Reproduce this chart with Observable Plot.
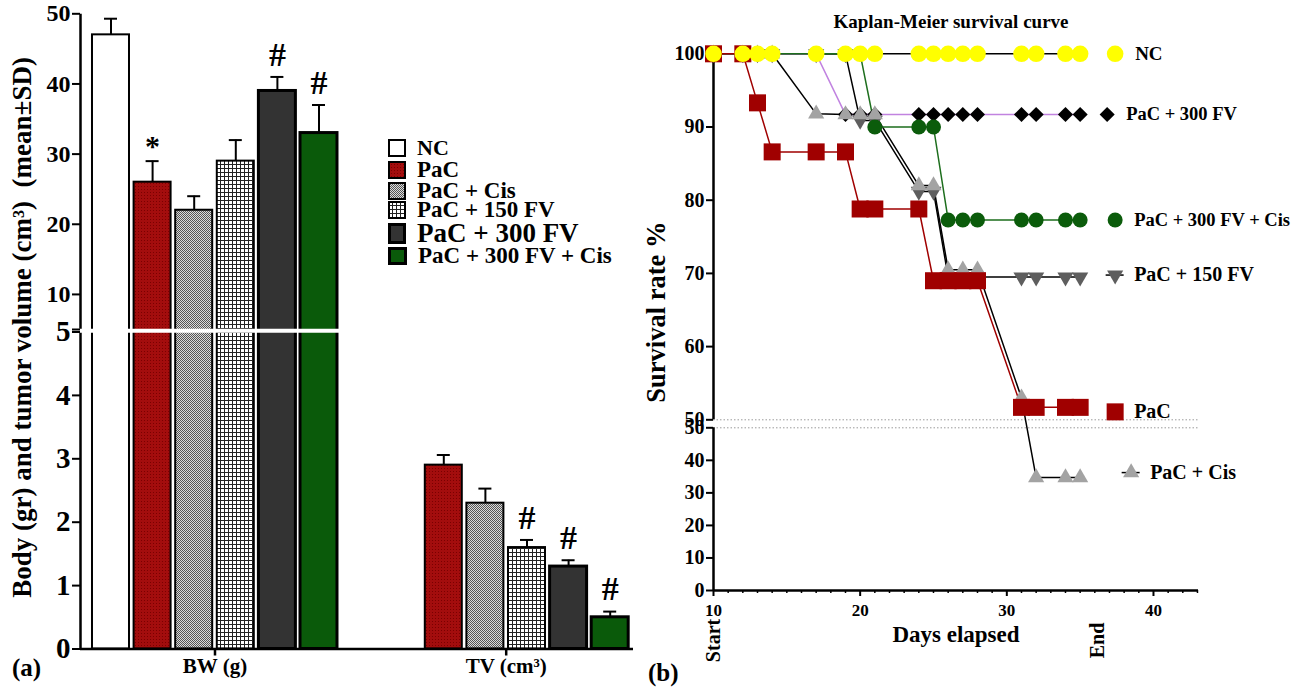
<!DOCTYPE html>
<html><head><meta charset="utf-8">
<script src="https://cdn.jsdelivr.net/npm/d3@7"></script>
<script src="https://cdn.jsdelivr.net/npm/@observablehq/plot@0.6"></script>
<style>
html,body{margin:0;padding:0;background:#fff;}
#root{position:relative;width:1307px;height:687px;overflow:hidden;font-family:"Liberation Serif","Times New Roman",serif;font-weight:bold;color:#000;}
#root > svg{position:absolute;top:0;}
.lbl{position:absolute;white-space:nowrap;line-height:1;}
.leg{position:absolute;left:388px;display:flex;align-items:center;white-space:nowrap;line-height:0.85;}
.leg svg{margin-right:11px;flex:none;}
</style></head>
<body>
<svg width="0" height="0" style="position:absolute">
<defs>
<pattern id="pPaC" width="3" height="3" patternUnits="userSpaceOnUse">
<rect width="3" height="3" fill="#a30d0d"/><rect width="1" height="1" fill="#7a0000"/>
</pattern>
<pattern id="pCis" width="2" height="2" patternUnits="userSpaceOnUse">
<rect width="2" height="2" fill="#dadada"/><rect width="1" height="1" fill="#555"/><rect x="1" y="1" width="1" height="1" fill="#555"/>
</pattern>
<pattern id="p150" width="4" height="4" patternUnits="userSpaceOnUse">
<rect width="4" height="4" fill="#fff"/><path d="M0 0.5H4M0.5 0V4" stroke="#222" stroke-width="1"/>
</pattern>
</defs></svg>
<div id="root"></div>
<script>
// ---------- Panel (a) data ----------
const groups = ["BW (g)", "TV (cm³)"];
const series = ["NC", "PaC", "PaC + Cis", "PaC + 150 FV", "PaC + 300 FV", "PaC + 300 FV + Cis"];
const bwMean = [47, 26, 22, 29, 39, 33];
const bwSD = [2.3, 3, 2, 3, 2, 4];
const bwSig = ["", "*", "", "", "#", "#"];
const tvMean = [null, 2.9, 2.3, 1.6, 1.3, 0.5];
const tvSD = [null, 0.16, 0.23, 0.12, 0.1, 0.09];
const tvSig = ["", "", "", "#", "#", "#"];
const yTicksLowA = [0, 1, 2, 3, 4, 5];
const yTicksHighA = [10, 20, 30, 40, 50];
const yLabelA = "Body (gr) and tumor volume (cm³)  (mean±SD)";

// ---------- Panel (b) data ----------
const days = [10, 12, 13, 14, 17, 19, 20, 21, 24, 25, 26, 27, 28, 31, 32, 34, 35];
const survNC = [100, 100, 100, 100, 100, 100, 100, 100, 100, 100, 100, 100, 100, 100, 100, 100, 100];
const survPaC = [100, 100, 93.3, 86.6, 86.6, 86.6, 78.8, 78.8, 78.8, 69, 69, 69, 69, 51.7, 51.7, 51.7, 51.7];
const survCis = [100, 100, 100, 100, 91.8, 91.7, 91.7, 91.7, 82, 82, 70.5, 70.5, 70.5, 53, 34.7, 34.7, 34.7];
const surv150 = [100, 100, 100, 100, 100, 100, 90.9, 90.9, 81.2, 81.2, 69.5, 69.5, 69.5, 69.5, 69.5, 69.5, 69.5];
const surv300 = [100, 100, 100, 100, 100, 91.7, 91.7, 91.7, 91.7, 91.7, 91.7, 91.7, 91.7, 91.7, 91.7, 91.7, 91.7];
const surv300Cis = [100, 100, 100, 100, 100, 100, 100, 90, 90, 90, 77.3, 77.3, 77.3, 77.3, 77.3, 77.3, 77.3];
const dayTicks = [10, 20, 30, 40];
const yTicksB = [0, 10, 20, 30, 40, 50, 60, 70, 80, 90, 100];
const eventLabels = ["Start", "End"];
const eventDays = [10, 36.2];

const FONT = "Liberation Serif, Times New Roman, serif";
const root = document.getElementById("root");

// ---------- Panel (a) ----------
const fillsA = ["#ffffff", "url(#pPaC)", "url(#pCis)", "url(#p150)", "#333333", "#0a5a0a"];
const slots = [];
groups.forEach((g, gi) => { if (gi) slots.push("gap"); series.forEach(s => slots.push(g + "|" + s)); });
const barRows = [];
series.forEach((s, i) => {
  barRows.push({series: s, slot: groups[0] + "|" + s, mean: bwMean[i], sd: bwSD[i], sig: bwSig[i]});
  if (tvMean[i] != null) barRows.push({series: s, slot: groups[1] + "|" + s, mean: tvMean[i], sd: tvSD[i], sig: tvSig[i]});
});
const groupCenters = groups.map(g => ({label: g, slot: g + "|" + series[2]}));

const W1 = 640, H1 = 687, mL = 80, mR = 7, mT = 13.3, mB = 38.5;
const yBreakA = 5.0001;
const fw = W1 - mL - mR, fh = H1 - mT - mB;
const left = Plot.plot({
  width: W1, height: H1, marginLeft: mL, marginRight: mR, marginTop: mT, marginBottom: mB,
  style: {fontFamily: FONT, fontWeight: "bold", background: "transparent", overflow: "visible"},
  x: {type: "band", domain: slots, range: [mL, W1 - mR], round: false, paddingInner: 0.1106, paddingOuter: 0.2019, align: 0.714, axis: null},
  y: {type: "linear", domain: [0, 5, yBreakA, 50], range: [H1 - mB, 331.5, 329, mT]},
  color: {type: "ordinal", domain: series, range: fillsA},
  marks: [
    Plot.frame({strokeWidth: 2.5, strokeDasharray: `0 ${2 * fw + fh} ${fh}`}),
    Plot.barY(barRows, {x: "slot", y: "mean", fill: "series", stroke: "#000", strokeWidth: d => d.series.startsWith("PaC + 300") ? 3 : 2}),
    Plot.ruleX(barRows, {x: "slot", y1: "mean", y2: d => d.mean + d.sd, strokeWidth: 2}),
    Plot.tickY(barRows, {x: "slot", y: d => d.mean + d.sd, strokeWidth: 2, insetLeft: 12, insetRight: 12}),
    Plot.text(barRows.filter(d => d.sig === "#"), {x: "slot", y: d => d.mean + d.sd, text: "sig", dy: -22, fontSize: 34}),
    Plot.text(barRows.filter(d => d.sig === "*"), {x: "slot", y: d => d.mean + d.sd, text: "sig", dy: -15, fontSize: 30}),
    Plot.ruleY([5.00005], {x1: () => slots[0], x2: () => slots[5], insetLeft: -16, insetRight: -2, stroke: "#fff", strokeWidth: 4}),
    Plot.axisY({ticks: [...yTicksLowA, yBreakA], tickSize: 8, tickPadding: 2, fontSize: 29, strokeWidth: 2, tickFormat: d => d === yBreakA ? "" : String(d), label: null}),
    Plot.axisY({ticks: yTicksHighA, tickSize: 8, tickPadding: 2, fontSize: 24, strokeWidth: 2, label: null}),
    Plot.ruleY([0], {strokeWidth: 2.5}),
    Plot.ruleX(groupCenters, {x: "slot", y1: 0, y2: 0, dx: 20.8, insetBottom: -7, strokeWidth: 2.5}),
    Plot.text(groupCenters, {x: "slot", y: 0, text: "label", dx: 20.8, dy: 17, fontSize: 21}),
    Plot.text([yLabelA], {frameAnchor: "left", textAnchor: "middle", text: d => d, rotate: -90, dx: -58, dy: -4, fontSize: 27})
  ]
});
left.style.left = "0px";
root.appendChild(left);

// ---------- Panel (b) ----------
const downTriangle = {draw(context, size) {
  const y = Math.sqrt(size / (Math.sqrt(3) * 3));
  context.moveTo(0, 2 * y); context.lineTo(-Math.sqrt(3) * y, -y); context.lineTo(Math.sqrt(3) * y, -y); context.closePath();
}};
const survSeries = [
  {name: "NC", values: survNC, line: "#000", symbol: "circle", fill: "#ffff00", r: 8.3, ldx: 35, tdx: 55, ldy: 0, fs: 19},
  {name: "PaC + 300 FV", values: surv300, line: "#c183e0", symbol: "diamond2", fill: "#000", r: 6.8, ldx: 27, tdx: 46, ldy: 0, fs: 18.5},
  {name: "PaC + 300 FV + Cis", values: surv300Cis, line: "#1d6e1d", symbol: "circle", fill: "#0b5c0b", r: 7.5, ldx: 35, tdx: 54, ldy: 0, fs: 18.5},
  {name: "PaC + 150 FV", values: surv150, line: "#000", symbol: downTriangle, fill: "#5e5e5e", r: 6, ldx: 35, tdx: 54, ldy: -2, fs: 20, dash: true},
  {name: "PaC", values: survPaC, line: "#a00000", symbol: "square", fill: "#a00000", r: 9.6, ldx: 35, tdx: 54, ldy: 4.5, fs: 20},
  {name: "PaC + Cis", values: survCis, line: "#000", symbol: "triangle", fill: "#a3a3a3", r: 6, ldx: 51, tdx: 70, ldy: -5, fs: 20, dash: true}
];
survSeries.forEach(s => { s.rows = days.map((d, i) => ({series: s.name, day: d, value: s.values[i]})); s.last = s.rows[s.rows.length - 1]; });
const byName = Object.fromEntries(survSeries.map(s => [s.name, s]));
const lineOrder = ["NC", "PaC + Cis", "PaC + 150 FV", "PaC + 300 FV", "PaC + 300 FV + Cis", "PaC"];
const dotOrder = ["PaC + 300 FV", "PaC + 150 FV", "PaC + 300 FV + Cis", "PaC + Cis", "PaC", "NC"];
const yBreakB = 50.001;
const minorTicks = d3.range(11, 44).filter(d => d % 10 !== 0);

const W2 = 667, H2 = 687;
const right = Plot.plot({
  width: W2, height: H2, marginLeft: 73, marginRight: 109, marginTop: 53.3, marginBottom: 97,
  style: {fontFamily: FONT, fontWeight: "bold", background: "transparent", overflow: "visible"},
  x: {type: "linear", domain: [10, 43.07]},
  y: {type: "linear", domain: [0, 50, yBreakB, 100], range: [590, 427.3, 419.3, 53.3]},
  marks: [
    Plot.ruleY([50, yBreakB], {stroke: "#9a9a9a", strokeDasharray: "1.5,2", strokeWidth: 1}),
    Plot.ruleX([10], {y1: 0, y2: 50, strokeWidth: 2.5}),
    Plot.ruleX([10], {y1: yBreakB, y2: 100, strokeWidth: 2.5}),
    Plot.ruleY([0], {strokeWidth: 2.5}),
    Plot.axisY({ticks: [...yTicksB, yBreakB], tickSize: 7, tickPadding: 2, fontSize: 20, strokeWidth: 2, tickFormat: d => String(Math.round(d)), label: null}),
    Plot.axisX({ticks: minorTicks, tickSize: 3, tickFormat: () => "", strokeWidth: 1.5, label: null}),
    Plot.axisX({ticks: dayTicks, tickSize: 6, tickPadding: 7, fontSize: 17, strokeWidth: 2, label: null}),
    ...lineOrder.map(n => Plot.line(byName[n].rows, {x: "day", y: "value", stroke: byName[n].line, strokeWidth: 1.5})),
    ...dotOrder.map(n => Plot.dot(byName[n].rows, {x: "day", y: "value", symbol: byName[n].symbol, r: byName[n].r, fill: byName[n].fill})),
    ...survSeries.filter(s => s.dash).map(s => Plot.ruleY([s.last], {x1: "day", x2: "day", y: "value", insetLeft: s.ldx - 9, insetRight: -(s.ldx + 9), dy: s.ldy, strokeWidth: 1.5})),
    ...survSeries.map(s => Plot.dot([s.last], {x: "day", y: "value", symbol: s.symbol, r: s.r, fill: s.fill, dx: s.ldx, dy: s.ldy})),
    ...survSeries.map(s => Plot.text([s.last], {x: "day", y: "value", text: "series", textAnchor: "start", dx: s.tdx, dy: s.ldy, fontSize: s.fs})),
    Plot.text(["Kaplan-Meier survival curve"], {frameAnchor: "top", text: d => d, dy: -39, dx: -5, fontSize: 19}),
    Plot.text(["Days elapsed"], {frameAnchor: "bottom", text: d => d, dy: 51, fontSize: 23}),
    Plot.text(["Survival rate %"], {frameAnchor: "left", textAnchor: "middle", text: d => d, rotate: -90, dx: -57, dy: -10, fontSize: 26.5}),
    Plot.text(eventLabels, {x: eventDays, y: 0, text: d => d, rotate: -90, dy: 50, fontSize: 20})
  ]
});
right.style.left = "640px";
root.appendChild(right);

// ---------- legend for panel (a) ----------
const legRows = [
  {y: 148, fs: 22, w: 17, h: 17, sw: 2},
  {y: 170, fs: 23, w: 17, h: 17, sw: 2},
  {y: 191, fs: 23, w: 17, h: 17, sw: 2},
  {y: 210, fs: 23, w: 17, h: 17, sw: 2},
  {y: 233, fs: 27, w: 17, h: 20, sw: 3},
  {y: 256, fs: 23, w: 18, h: 17, sw: 3}
];
series.forEach((s, i) => {
  const r = legRows[i];
  const div = document.createElement("div");
  div.className = "leg";
  div.style.top = (r.y - 10) + "px";
  div.style.height = "20px";
  div.style.fontSize = r.fs + "px";
  div.innerHTML = `<svg width="${r.w + 1}" height="${r.h + 1}"><rect x="${r.sw / 2}" y="${r.sw / 2}" width="${r.w + 1 - r.sw}" height="${r.h + 1 - r.sw}" fill="${fillsA[i]}" stroke="#000" stroke-width="${r.sw}"/></svg><span>${s}</span>`;
  root.appendChild(div);
});

// panel tags
const tagA = document.createElement("div"); tagA.className = "lbl"; tagA.textContent = "(a)";
Object.assign(tagA.style, {left: "12px", top: "655px", fontSize: "25px"}); root.appendChild(tagA);
const tagB = document.createElement("div"); tagB.className = "lbl"; tagB.textContent = "(b)";
Object.assign(tagB.style, {left: "648px", top: "660px", fontSize: "25px"}); root.appendChild(tagB);
</script>
</body></html>
